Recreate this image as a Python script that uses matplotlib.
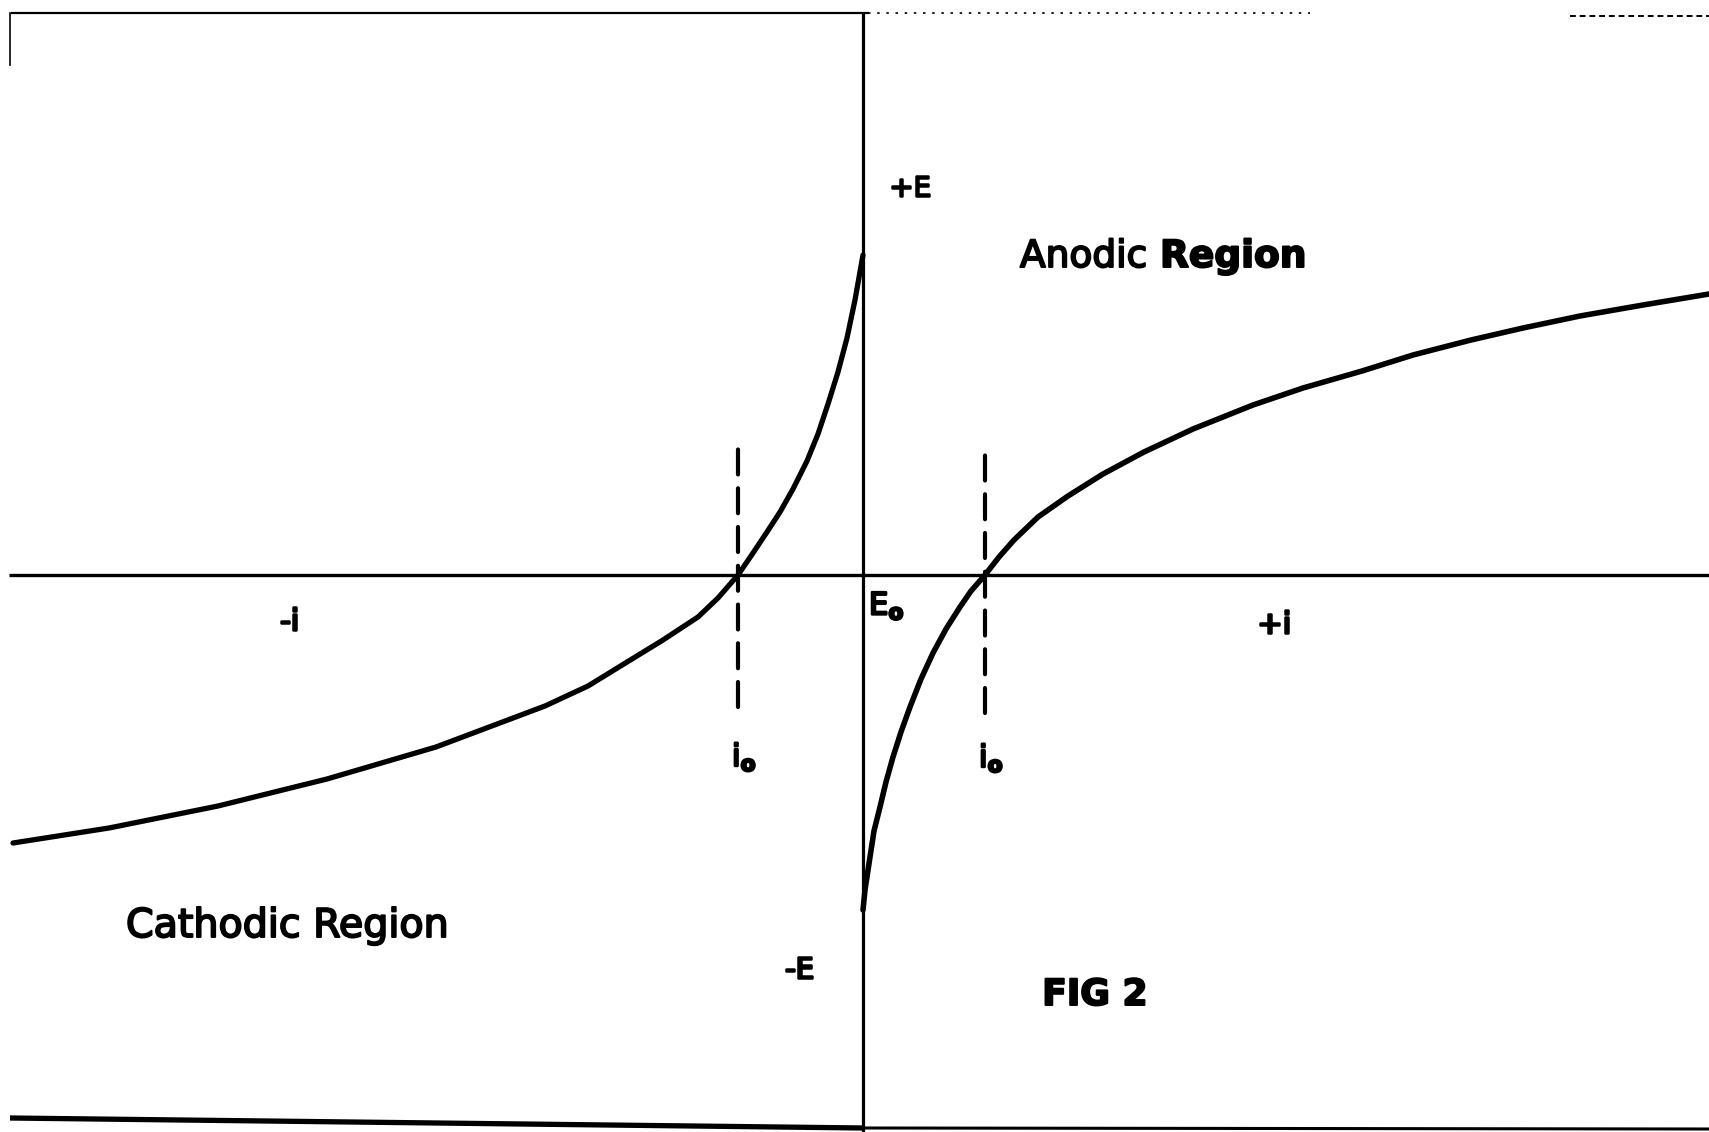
import matplotlib
matplotlib.use("Agg")
import matplotlib.pyplot as plt
import matplotlib.patheffects as pe

plt.rcParams['font.family'] = ['DejaVu Sans']
plt.rcParams['mathtext.fontset'] = 'dejavusans'

# Cathodic branch: current (i) vs potential (E), arbitrary units, origin at (0, E0)
cathodic_i = [-8.50, -7.54, -6.45, -5.36, -4.27, -3.18, -2.75, -2.31, -2.00,
              -1.65, -1.45, -1.25, -1.10, -0.96, -0.83, -0.70, -0.56, -0.45,
              -0.35, -0.25, -0.16, -0.08, 0.00]
cathodic_E = [-2.68, -2.53, -2.31, -2.04, -1.72, -1.31, -1.11, -0.84, -0.65,
              -0.42, -0.23, 0.00, 0.22, 0.43, 0.63, 0.86, 1.14, 1.41,
              1.71, 2.03, 2.37, 2.75, 3.20]

# Anodic branch
anodic_i = [0.00, 0.02, 0.07, 0.11, 0.17, 0.23, 0.30, 0.38, 0.47, 0.58, 0.70,
            0.83, 0.97, 1.08, 1.22, 1.36, 1.51, 1.75, 2.05, 2.40, 2.81, 3.30,
            3.90, 4.40, 4.99, 5.50, 6.08, 6.60, 7.17, 7.80, 8.46]
anodic_E = [-3.35, -3.15, -2.82, -2.56, -2.32, -2.07, -1.82, -1.57, -1.32,
            -1.04, -0.78, -0.54, -0.32, -0.16, 0.00, 0.18, 0.35, 0.58, 0.79,
            1.01, 1.23, 1.46, 1.70, 1.87, 2.04, 2.20, 2.35, 2.47, 2.59, 2.70,
            2.81]

# Exchange-current markers (i0) on each side
i0_positions = [-1.25, 1.22]
i0_spans = [(-1.32, 1.32), (-1.38, 1.28)]

fig = plt.figure(figsize=(17.09, 11.32), dpi=100)
ax = fig.add_axes([0, 0, 1, 1])
ax.set_xlim(-8.63, 8.46)
ax.set_ylim(-5.57, 5.75)
ax.axis('off')

k = 'black'

# Axes through the origin
ax.plot([-8.54, 8.46], [0, 0], color=k, lw=2.4, solid_capstyle='butt')
ax.plot([0, 0], [5.62, -5.57], color=k, lw=2.3, solid_capstyle='butt')

# Polarisation curves
ax.plot(cathodic_i, cathodic_E, color=k, lw=3.8, solid_capstyle='round',
        solid_joinstyle='round')
ax.plot(anodic_i, anodic_E, color=k, lw=4.0, solid_capstyle='round',
        solid_joinstyle='round')

# Dashed verticals at i0
for x, (y0, y1) in zip(i0_positions, i0_spans):
    ax.plot([x, x], [y0, y1], color=k, lw=3.0, dashes=(6.0, 3.3),
            dash_capstyle='round')

# Drawing frame
ax.plot([-8.51, 0.05], [5.62, 5.62], color=k, lw=1.6)
ax.plot([0.05, 4.47], [5.62, 5.62], color=k, lw=1.2, linestyle=(0, (1.5, 4)))
ax.plot([7.07, 8.46], [5.59, 5.59], color=k, lw=1.4, linestyle=(0, (3, 2)))
ax.plot([-8.53, -8.53], [5.62, 5.10], color=k, lw=1.2)
ax.plot([-8.53, 0.0], [-5.43, -5.53], color=k, lw=3.8, solid_capstyle='butt')
ax.plot([0.0, 8.46], [-5.53, -5.54], color=k, lw=2.2, solid_capstyle='butt')

# Labels (slightly thickened strokes for a drawn-lettering look)
ink = [pe.withStroke(linewidth=1.4, foreground=k)]
ink_small = [pe.withStroke(linewidth=1.8, foreground=k)]

ax.text(0.47, 3.87, '+E', fontsize=20, ha='center', va='center', color=k,
        path_effects=ink_small)
ax.text(-0.64, -3.95, '-E', fontsize=21, ha='center', va='center', color=k,
        path_effects=ink_small)
ax.text(-5.74, -0.47, '-i', fontsize=22, ha='center', va='center', color=k,
        path_effects=ink_small)
ax.text(4.11, -0.50, '+i', fontsize=22, ha='center', va='center', color=k,
        path_effects=ink_small)
ax.text(0.06, -0.31, r'E$_{\mathbf{o}}$', fontsize=22, ha='left', va='center',
        color=k, path_effects=ink_small)
ax.text(-1.31, -1.82, r'i$_{\mathbf{o}}$', fontsize=22, ha='left', va='center',
        color=k, path_effects=ink_small)
ax.text(1.16, -1.83, r'i$_{\mathbf{o}}$', fontsize=22, ha='left', va='center',
        color=k, path_effects=ink_small)

ax.text(1.57, 3.08, 'Anodic', fontsize=27, ha='left', va='baseline', color=k,
        path_effects=ink)
ax.text(2.97, 3.08, 'Region', fontsize=27, ha='left', va='baseline',
        fontweight='bold', color=k, path_effects=ink)
ax.text(-7.37, -3.62, 'Cathodic Region', fontsize=28.5, ha='left',
        va='baseline', color=k, path_effects=ink)
ax.text(2.32, -4.20, 'FIG 2', fontsize=26, ha='center', va='center',
        fontweight='bold', color=k, path_effects=ink)

fig.savefig('out.png', dpi=100, facecolor='white')
